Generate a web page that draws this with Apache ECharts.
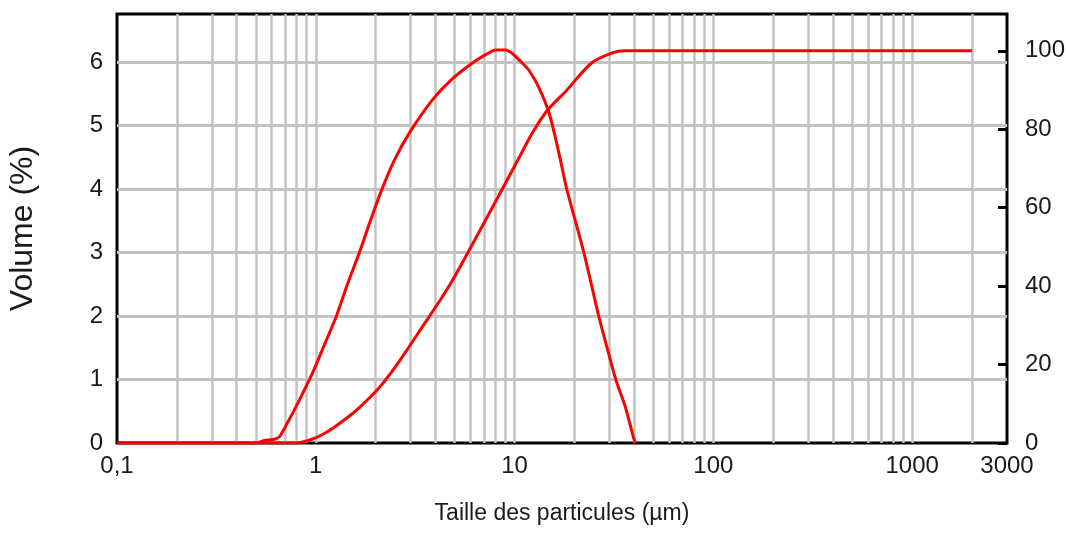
<!DOCTYPE html>
<html>
<head>
<meta charset="utf-8">
<script src="https://cdn.jsdelivr.net/npm/echarts@6/dist/echarts.min.js"></script>
<style>
  html, body { margin: 0; padding: 0; background: #fff; }
  #chart { width: 1066px; height: 535px; }
</style>
</head>
<body>
<div id="chart"></div>
<script>
// Particle size (µm) and volume frequency (%) - left axis
const freqSizes  = [0.1, 0.5, 0.55, 0.62, 0.657, 0.738, 0.828, 0.962, 1.106, 1.27, 1.443, 1.657, 1.882, 2.136, 2.482, 2.952, 3.85, 4.8, 6.11, 7.02, 8.07, 9.0, 9.7, 10.8, 11.8, 13.2, 14.9, 16.7, 18.3, 22.3, 26.5, 29.2, 32.3, 36.2, 39.7, 40.6];
const freqValues = [0, 0, 0.04, 0.06, 0.1, 0.38, 0.68, 1.1, 1.55, 2.0, 2.5, 3.0, 3.5, 3.97, 4.45, 4.88, 5.40, 5.72, 5.98, 6.10, 6.19, 6.19, 6.14, 6.0, 5.87, 5.61, 5.2, 4.57, 4.0, 3.0, 2.0, 1.5, 1.0, 0.55, 0.08, 0];
// Cumulative volume (%) - right axis
const cumSizes  = [0.1, 0.8, 0.877, 0.962, 1.044, 1.171, 1.315, 1.476, 1.657, 1.86, 2.087, 2.425, 2.852, 3.43, 4.18, 4.85, 6.63, 10.5, 12.2, 14.5, 18.1, 24.4, 30.8, 36.0, 2000];
const cumValues = [0, 0, 0.38, 1.02, 1.78, 3.19, 4.97, 6.88, 9.05, 11.47, 14.15, 18.35, 23.45, 29.57, 36.07, 41.3, 53.8, 72.6, 78.8, 84.6, 89.7, 96.9, 99.4, 100, 100];
// Vertical grid line positions (log minor ticks)
const xGridValues = [0.2,0.3,0.4,0.5,0.6,0.7,0.8,0.9,1,2,3,4,5,6,7,8,9,10,20,30,40,50,60,70,80,90,100,200,300,400,500,600,700,800,900,1000,2000];
const xAxisName = 'Taille des particules (µm)';
const yAxisName = 'Volume (%)';

const font = "'Liberation Sans', Arial, sans-serif";
const textColor = '#1a1a1a';

const chart = echarts.init(document.getElementById('chart'), null, { renderer: 'canvas' });
chart.setOption({
  animation: false,
  backgroundColor: '#fff',
  grid: {
    left: 117, top: 14, width: 890, height: 429,
    outerBoundsMode: 'none', containLabel: false,
    show: true, borderColor: '#000', borderWidth: 3, backgroundColor: 'transparent'
  },
  xAxis: {
    type: 'log', logBase: 10, min: 0.1, max: 3000,
    name: xAxisName, nameLocation: 'middle', nameGap: 59,
    nameTextStyle: { fontFamily: font, fontSize: 23, color: textColor },
    axisLine: { show: false },
    axisTick: { show: false },
    splitLine: { show: false },
    axisLabel: {
      fontFamily: font, fontSize: 24, color: textColor, margin: 11,
      showMinLabel: true, showMaxLabel: true,
      formatter: v => String(v).replace('.', ',')
    }
  },
  yAxis: [
    {
      type: 'value', min: 0, max: 6.756, interval: 1, position: 'left',
      name: yAxisName, nameLocation: 'middle', nameRotate: 90, nameGap: 78,
      nameTextStyle: { fontFamily: font, fontSize: 32, color: textColor },
      axisLine: { show: false }, axisTick: { show: false },
      axisLabel: { fontFamily: font, fontSize: 24, color: textColor, margin: 14, showMaxLabel: false },
      splitLine: { show: true, showMinLine: false, showMaxLine: false, lineStyle: { color: '#c3c3c3', width: 3 } }
    },
    {
      type: 'value', min: 0, max: 109.4, interval: 20, position: 'right',
      axisLine: { show: false },
      axisTick: { show: true, inside: true, length: 9, lineStyle: { color: '#000', width: 3 } },
      axisLabel: { fontFamily: font, fontSize: 24, color: textColor, margin: 18, showMaxLabel: false },
      splitLine: { show: false }
    }
  ],
  series: [
    {
      type: 'line', name: 'grid', yAxisIndex: 0, data: [[0.1, 0]],
      symbol: 'none', lineStyle: { opacity: 0 }, silent: true, z: 1,
      markLine: {
        silent: true, symbol: ['none', 'none'], animation: false,
        label: { show: false },
        lineStyle: { type: 'solid', color: '#c3c3c3', width: 2.5 },
        data: xGridValues.map(v => ({ xAxis: v }))
      }
    },
    {
      type: 'line', name: 'Volume', yAxisIndex: 0,
      data: freqSizes.map((s, i) => [s, freqValues[i]]),
      symbol: 'none', smooth: 0.3, z: 5,
      lineStyle: { color: '#ff0000', width: 3 }
    },
    {
      type: 'line', name: 'Cumul', yAxisIndex: 1,
      data: cumSizes.map((s, i) => [s, cumValues[i]]),
      symbol: 'none', smooth: 0.3, z: 5,
      lineStyle: { color: '#ff0000', width: 3 }
    }
  ]
});
</script>
</body>
</html>
